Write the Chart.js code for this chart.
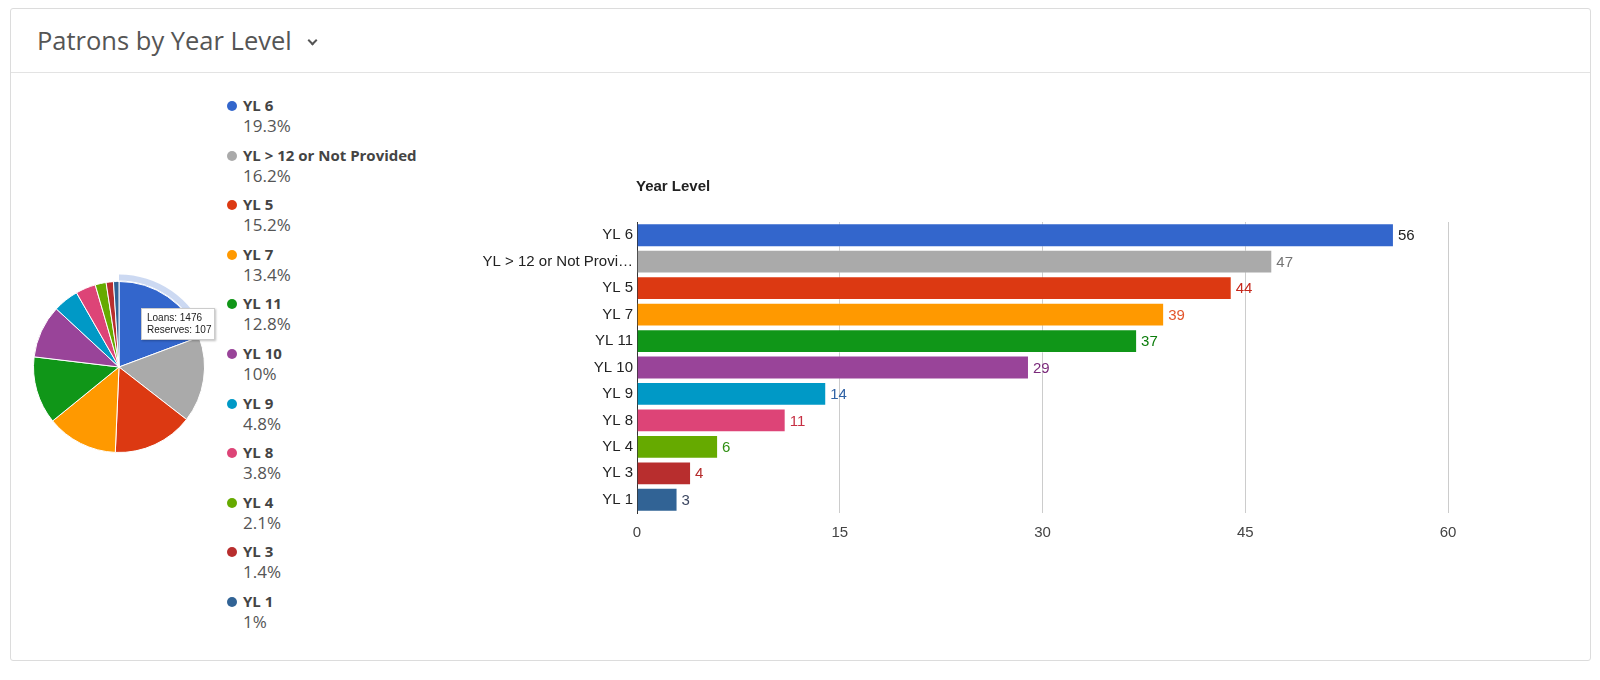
<!DOCTYPE html>
<html>
<head>
<meta charset="utf-8">
<script src="https://cdn.jsdelivr.net/npm/chart.js@4.4.1/dist/chart.umd.min.js"></script>
<style>
  body { margin: 0; background: #fff; width: 1600px; height: 680px; overflow: hidden; font-family: "Open Sans", sans-serif; }
  .card { position: absolute; left: 10px; top: 8px; width: 1579px; height: 651px; border: 1px solid #dcdcdc; border-radius: 3px; }
  .head { position: absolute; left: 0; top: 0; right: 0; height: 63px; border-bottom: 1px solid #e3e3e3; }
  .head h1 { position: absolute; left: 26px; top: 14px; margin: 0; font-weight: 400; font-size: 25.5px; color: #555; }
  .chev { position: absolute; left: 298px; top: 28px; width: 5px; height: 5px; border-right: 2px solid #555; border-bottom: 2px solid #555; transform: rotate(45deg); }
  #legend { position: absolute; left: 216px; top: 87px; }
  .item { position: relative; height: 49.6px; }
  .dot { position: absolute; left: 0; top: 5px; width: 10px; height: 10px; border-radius: 50%; }
  .lab { position: absolute; left: 16px; top: -1px; font-size: 15px; font-weight: 700; color: #444; line-height: 20px; white-space: nowrap; }
  .pct { position: absolute; left: 16px; top: 19px; font-size: 17px; color: #555; line-height: 22px; }
  #pieWrap { position: absolute; left: 8px; top: 258px; width: 200px; height: 200px; }
  #barWrap { position: absolute; left: 460px; top: 162px; width: 1000px; height: 380px; }
  .tip { position: absolute; left: 141px; top: 308px; width: 74px; height: 32px; background: #fff; border: 1px solid #ccc; box-shadow: 1px 1px 2px rgba(0,0,0,0.25); font-family: "Liberation Sans", Arial, sans-serif; font-size: 10px; color: #222; line-height: 12px; padding: 3px 0 0 5px; box-sizing: border-box; }
</style>
</head>
<body>
<div class="card">
  <div class="head"><h1>Patrons by Year Level</h1><div class="chev"></div></div>
  <div id="legend"></div>
  <div id="pieWrap"><canvas id="piechart"></canvas></div>
  <div id="barWrap"><canvas id="barchart"></canvas></div>
</div>
<div class="tip" id="tip"></div>
<script>
// Chart data
const yearLevels = ['YL 6', 'YL > 12 or Not Provided', 'YL 5', 'YL 7', 'YL 11', 'YL 10', 'YL 9', 'YL 8', 'YL 4', 'YL 3', 'YL 1'];
const patronCounts = [56, 47, 44, 39, 37, 29, 14, 11, 6, 4, 3];
const sliceColors = ['#3366cc', '#aaaaaa', '#dc3912', '#ff9900', '#109618', '#994499', '#0099c6', '#dd4477', '#66aa00', '#b82e2e', '#316395'];
const labelColors = ['#222222', '#757575', '#c5281c', '#e3552c', '#0c7d0c', '#7b2a7b', '#2f62a5', '#c62f43', '#2f8f12', '#b52a2a', '#3b4660'];
const xTicks = [0, 15, 30, 45, 60];
const tipLoans = 1476;
const tipReserves = 107;

const total = patronCounts.reduce((a, b) => a + b, 0);
const barFont = '"Liberation Sans", Arial, sans-serif';

// HTML legend for the pie
const legend = document.getElementById('legend');
yearLevels.forEach((name, i) => {
  const pct = parseFloat((patronCounts[i] / total * 100).toFixed(1));
  const div = document.createElement('div');
  div.className = 'item';
  div.innerHTML = '<span class="dot" style="background:' + sliceColors[i] + '"></span>' +
    '<span class="lab">' + name.replace('>', '&gt;') + '</span>' +
    '<span class="pct">' + pct + '%</span>';
  legend.appendChild(div);
});

document.getElementById('tip').innerHTML = 'Loans: ' + tipLoans + '<br>Reserves: ' + tipReserves;

// hover halo round the first slice
const haloPlugin = {
  id: 'halo',
  beforeDatasetsDraw(chart) {
    const arc = chart.getDatasetMeta(0).data[0];
    if (!arc) return;
    const ctx = chart.ctx;
    ctx.save();
    ctx.beginPath();
    ctx.arc(arc.x, arc.y, arc.outerRadius + 7, arc.startAngle, arc.endAngle);
    ctx.arc(arc.x, arc.y, arc.outerRadius + 1, arc.endAngle, arc.startAngle, true);
    ctx.closePath();
    ctx.fillStyle = 'rgba(51,102,204,0.25)';
    ctx.fill();
    ctx.restore();
  }
};

new Chart(document.getElementById('piechart'), {
  type: 'pie',
  data: {
    labels: yearLevels,
    datasets: [{
      data: patronCounts,
      backgroundColor: sliceColors,
      borderColor: '#ffffff',
      borderWidth: 1
    }]
  },
  options: {
    responsive: true,
    maintainAspectRatio: false,
    animation: false,
    layout: { padding: 14 },
    plugins: { legend: { display: false }, tooltip: { enabled: false } }
  },
  plugins: [haloPlugin]
});

// value labels at bar ends + chart title
const barExtras = {
  id: 'barExtras',
  afterDatasetsDraw(chart) {
    const ctx = chart.ctx;
    ctx.save();
    ctx.font = '15px ' + barFont;
    ctx.textBaseline = 'middle';
    ctx.textAlign = 'left';
    chart.getDatasetMeta(0).data.forEach((bar, i) => {
      ctx.fillStyle = labelColors[i];
      ctx.fillText(String(patronCounts[i]), bar.x + 4, bar.y + 1);
    });
    ctx.font = 'bold 15px ' + barFont;
    ctx.fillStyle = '#222';
    ctx.fillText('Year Level', chart.chartArea.left - 1, 16);
    ctx.restore();
  }
};

new Chart(document.getElementById('barchart'), {
  type: 'bar',
  data: {
    labels: yearLevels,
    datasets: [{
      data: patronCounts,
      backgroundColor: sliceColors,
      borderColor: 'rgba(255,255,255,0.3)',
      borderWidth: 1,
      barPercentage: 0.9,
      categoryPercentage: 1
    }]
  },
  options: {
    indexAxis: 'y',
    responsive: true,
    maintainAspectRatio: false,
    animation: false,
    layout: { padding: { top: 51, right: 23, bottom: 0, left: 0 } },
    plugins: { legend: { display: false }, tooltip: { enabled: false } },
    scales: {
      x: {
        min: 0,
        max: 60,
        afterBuildTicks(axis) { axis.ticks = xTicks.map(v => ({ value: v })); },
        afterFit(axis) { axis.height = 38; },
        border: { display: false },
        grid: {
          drawTicks: false,
          color: ctx => ctx.tick && ctx.tick.value === 0 ? '#333333' : '#cccccc'
        },
        ticks: {
          padding: 11,
          color: '#444',
          font: { family: barFont, size: 15 }
        }
      },
      y: {
        afterFit(axis) { axis.width = 166; },
        grid: { display: false, drawTicks: false, tickLength: 0 },
        border: { display: true, color: '#333333', width: 1 },
        ticks: {
          padding: 4,
          color: '#222',
          font: { family: barFont, size: 15 },
          callback: function (value) {
            const s = this.getLabelForValue(value);
            return s.length > 20 ? s.slice(0, 20) + '\u2026' : s;
          }
        }
      }
    }
  },
  plugins: [barExtras]
});
</script>
</body>
</html>
